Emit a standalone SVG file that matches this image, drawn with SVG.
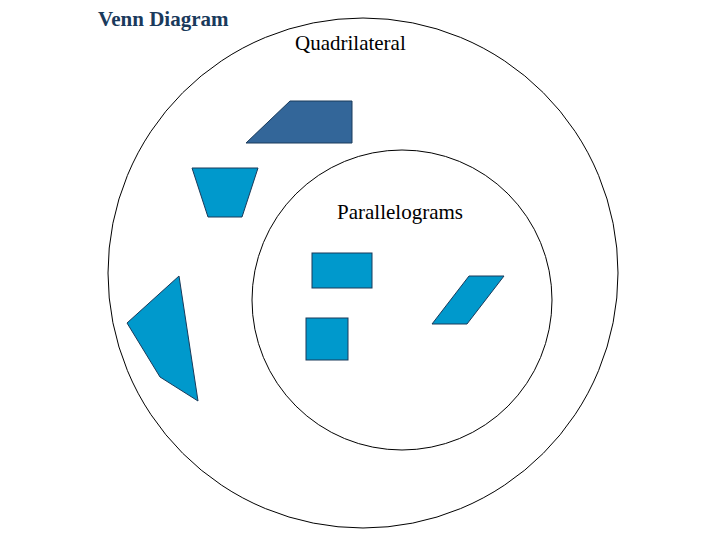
<svg xmlns="http://www.w3.org/2000/svg" width="720" height="540" viewBox="0 0 720 540">
<style>
.c{fill:none;stroke:#000;stroke-width:1}
.s{fill:#0099cc;stroke:#1a3a5a;stroke-width:1}
.t{font-family:"Liberation Serif",serif;font-size:21px;fill:#000}
</style>
<rect width="720" height="540" fill="#fff"/>
<text x="98" y="26" style="font-family:'Liberation Serif',serif;font-size:21px;font-weight:bold;fill:#1a3a5c">Venn Diagram</text>
<g id="quadrilateral"><circle class="c" cx="363" cy="273" r="255"/><text class="t" x="295" y="50">Quadrilateral</text></g>
<g id="parallelograms"><circle class="c" cx="402" cy="300" r="150"/><text class="t" x="337" y="219">Parallelograms</text></g>
<g id="shapes">
<polygon points="246,143 290,101 352,101 352,143" fill="#336699" stroke="#1a3a5a"/>
<polygon class="s" points="192,168 258,168 242,217 208,217"/>
<polygon class="s" points="127,323 179,276 198,401 160,377"/>
<rect class="s" x="312" y="253" width="60" height="35"/>
<rect class="s" x="306" y="318" width="42" height="42"/>
<polygon class="s" points="432,324 469,276 504,276 467,324"/>
</g>
<g id="connectors"/>
</svg>
